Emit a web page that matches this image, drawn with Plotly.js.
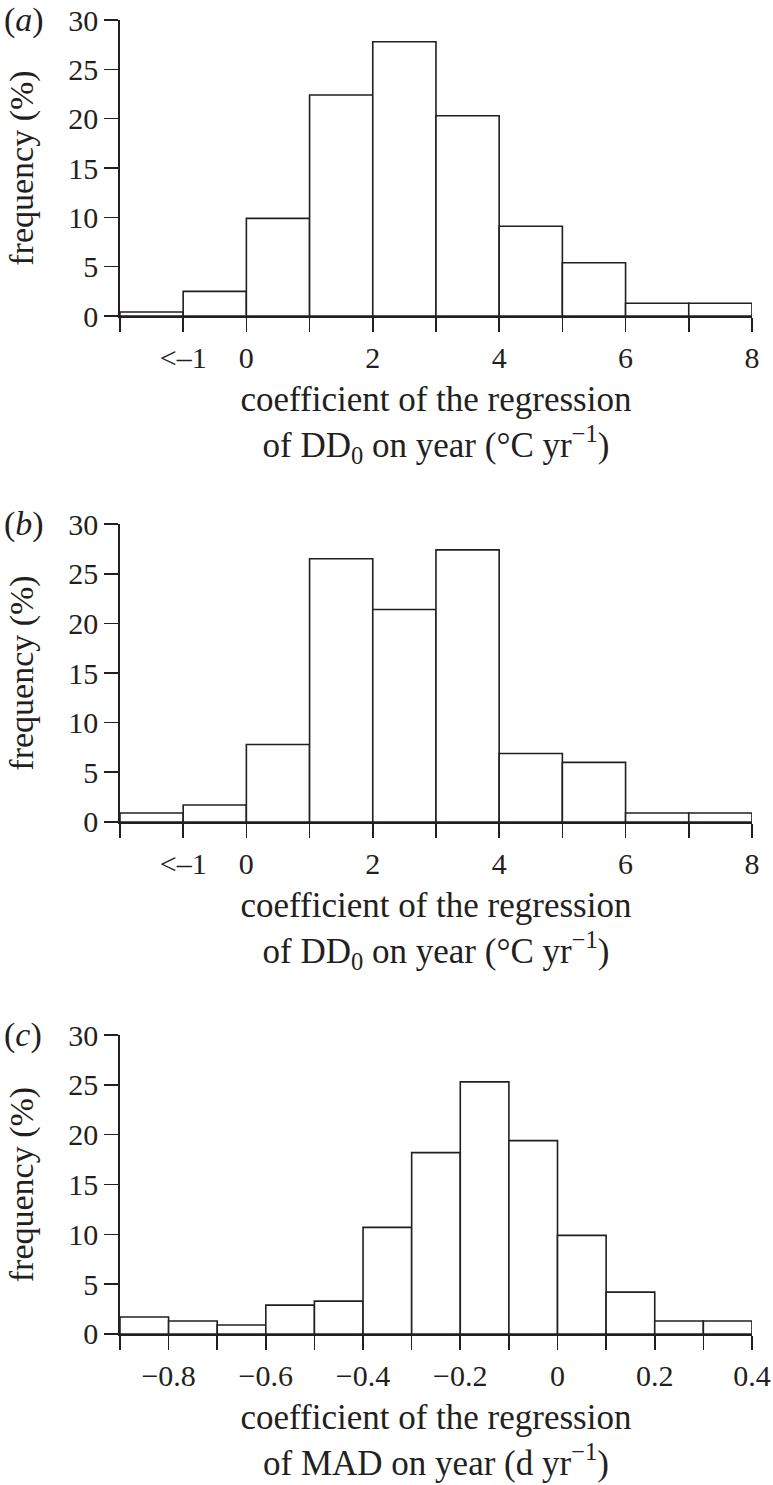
<!DOCTYPE html>
<html>
<head>
<meta charset="utf-8">
<script src="https://cdn.plot.ly/plotly-3.0.1.min.js"></script>
<style>
  html, body { margin: 0; padding: 0; background: #fff; }
  #plot { width: 773px; height: 1485px; }
</style>
</head>
<body>
<div id="plot"></div>
<script>
// bin left edges and frequencies (%)
var binsA = [-2, -1, 0, 1, 2, 3, 4, 5, 6, 7];
var freqA = [0.4, 2.5, 9.9, 22.4, 27.8, 20.3, 9.1, 5.4, 1.3, 1.3];

var binsB = [-2, -1, 0, 1, 2, 3, 4, 5, 6, 7];
var freqB = [0.9, 1.7, 7.8, 26.5, 21.4, 27.4, 6.9, 6.0, 0.9, 0.9];

var binsC = [-0.9, -0.8, -0.7, -0.6, -0.5, -0.4, -0.3, -0.2, -0.1, 0, 0.1, 0.2, 0.3];
var freqC = [1.7, 1.3, 0.9, 2.9, 3.3, 10.7, 18.2, 25.3, 19.4, 9.9, 4.2, 1.3, 1.3];

var ticksAB = [-2, -1, 0, 1, 2, 3, 4, 5, 6, 7, 8];
var labelsAB = ['', '<\u20131', '0', '', '2', '', '4', '', '6', '', '8'];
var ticksC = [-0.9, -0.8, -0.7, -0.6, -0.5, -0.4, -0.3, -0.2, -0.1, 0, 0.1, 0.2, 0.3, 0.4];
var labelsC = ['', '\u22120.8', '', '\u22120.6', '', '\u22120.4', '', '\u22120.2', '', '0', '', '0.2', '', '0.4'];

var yTicks = [0, 5, 10, 15, 20, 25, 30];

var font = 'Liberation Serif, Times New Roman, serif';
var ink = '#231f20';

function bars(x, y, w, xa, ya) {
    return {
        type: 'bar',
        x: x,
        y: y,
        width: w,
        offset: 0,
        xaxis: xa,
        yaxis: ya,
        marker: { color: '#ffffff', line: { color: ink, width: 1.6 } },
        hoverinfo: 'x+y',
        showlegend: false
    };
}

var data = [
    bars(binsA, freqA, 1, 'x', 'y'),
    bars(binsB, freqB, 1, 'x2', 'y2'),
    bars(binsC, freqC, 0.1, 'x3', 'y3')
];

function xAxis(range, vals, text, title, anchor) {
    return {
        domain: [0.1552, 0.9728],
        anchor: anchor,
        range: range,
        tickmode: 'array',
        tickvals: vals,
        ticktext: text,
        ticks: 'outside',
        ticklen: 14,
        tickwidth: 1.6,
        tickcolor: ink,
        showline: true,
        linecolor: ink,
        linewidth: 1.6,
        showgrid: false,
        zeroline: false,
        tickfont: { family: font, size: 30, color: ink },
        title: { text: title, font: { family: font, size: 35, color: ink }, standoff: 14 }
    };
}

function yAxis(domain, anchor) {
    return {
        domain: domain,
        anchor: anchor,
        range: [0, 30],
        tickmode: 'array',
        tickvals: yTicks,
        ticks: 'outside',
        ticklen: 14,
        tickwidth: 1.6,
        tickcolor: ink,
        showline: true,
        linecolor: ink,
        linewidth: 1.6,
        showgrid: false,
        zeroline: false,
        tickfont: { family: font, size: 30, color: ink },
        title: { text: 'frequency (%)', font: { family: font, size: 34, color: ink }, standoff: 24 }
    };
}

var ddTitle = 'coefficient of the regression<br>of DD<sub>0</sub> on year (\u00b0C yr<sup>\u22121</sup>)';
var madTitle = 'coefficient of the regression<br>of MAD on year (d yr<sup>\u22121</sup>)';

function panelLabel(letter, y) {
    return {
        text: '(<i>' + letter + '</i>)', xref: 'paper', yref: 'paper', x: 0.002, y: y,
        xanchor: 'left', yanchor: 'middle', showarrow: false,
        font: { family: font, size: 34, color: ink }
    };
}

var layout = {
    width: 773,
    height: 1485,
    margin: { l: 0, r: 0, t: 0, b: 0 },
    paper_bgcolor: '#fff',
    plot_bgcolor: '#fff',
    bargap: 0,
    xaxis: xAxis([-2, 8], ticksAB, labelsAB, ddTitle, 'y'),
    yaxis: yAxis([0.7872, 0.9865], 'x'),
    xaxis2: xAxis([-2, 8], ticksAB, labelsAB, ddTitle, 'y2'),
    yaxis2: yAxis([0.4465, 0.6471], 'x2'),
    xaxis3: xAxis([-0.9, 0.4], ticksC, labelsC, madTitle, 'y3'),
    yaxis3: yAxis([0.1017, 0.3030], 'x3'),
    annotations: [
        panelLabel('a', 0.9865),
        panelLabel('b', 0.6471),
        panelLabel('c', 0.3030)
    ]
};

Plotly.newPlot('plot', data, layout, { displayModeBar: false, staticPlot: true });
</script>
</body>
</html>
